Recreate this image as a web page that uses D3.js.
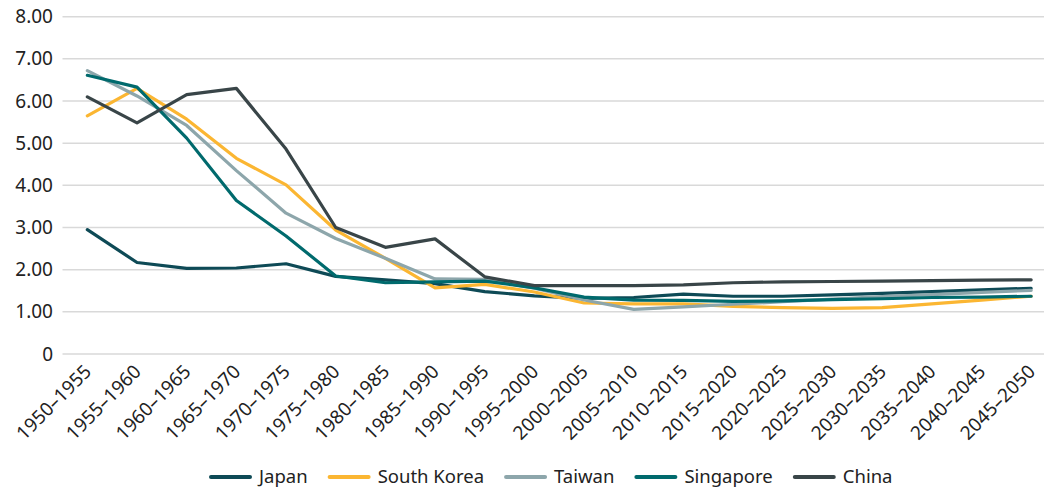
<!DOCTYPE html>
<html>
<head>
<meta charset="utf-8">
<script src="https://cdn.jsdelivr.net/npm/d3@7"></script>
<style>
  html, body { margin: 0; padding: 0; background: #fff; }
  svg { display: block; font-family: "Noto Sans", sans-serif; }
</style>
</head>
<body>
<svg id="chart" width="1044" height="489"></svg>
<script>
// Five-year periods
const periods = [
  "1950–1955", "1955–1960", "1960–1965", "1965–1970", "1970–1975",
  "1975–1980", "1980–1985", "1985–1990", "1990–1995", "1995–2000",
  "2000–2005", "2005–2010", "2010–2015", "2015–2020", "2020–2025",
  "2025–2030", "2030–2035", "2035–2040", "2040–2045", "2045–2050"
];

// Total fertility rate per period
const japan     = [2.95, 2.17, 2.03, 2.04, 2.14, 1.84, 1.76, 1.67, 1.48, 1.38, 1.32, 1.34, 1.42, 1.37, 1.37, 1.40, 1.44, 1.48, 1.52, 1.56];
const southKorea= [5.65, 6.30, 5.57, 4.64, 4.01, 2.94, 2.27, 1.57, 1.65, 1.47, 1.21, 1.19, 1.19, 1.13, 1.10, 1.08, 1.10, 1.19, 1.28, 1.37];
const taiwan    = [6.72, 6.12, 5.42, 4.35, 3.34, 2.74, 2.27, 1.78, 1.77, 1.56, 1.28, 1.06, 1.12, 1.18, 1.24, 1.30, 1.36, 1.41, 1.46, 1.51];
const singapore = [6.61, 6.33, 5.12, 3.64, 2.80, 1.85, 1.69, 1.71, 1.73, 1.57, 1.35, 1.28, 1.27, 1.25, 1.26, 1.29, 1.31, 1.34, 1.35, 1.37];
const china     = [6.10, 5.48, 6.15, 6.30, 4.86, 3.00, 2.53, 2.73, 1.83, 1.62, 1.62, 1.62, 1.64, 1.69, 1.71, 1.72, 1.73, 1.74, 1.75, 1.76];

const yTicks = [0, 1, 2, 3, 4, 5, 6, 7, 8];

const series = [
  { name: "Japan",       values: japan,      color: "#0e4a56" },
  { name: "South Korea", values: southKorea, color: "#fbb632" },
  { name: "Taiwan",      values: taiwan,     color: "#8da6ab" },
  { name: "Singapore",   values: singapore,  color: "#006a6d" },
  { name: "China",       values: china,      color: "#394548" }
];

const svg = d3.select("#chart");

const x = d3.scalePoint()
  .domain(periods)
  .range([62.5, 1056])
  .padding(0.5);

const y = d3.scaleLinear()
  .domain([0, 8])
  .range([354, 16.7]);

// Horizontal gridlines
svg.append("g")
  .selectAll("line")
  .data(yTicks)
  .join("line")
  .attr("x1", 62.5)
  .attr("x2", 1056)
  .attr("y1", d => y(d))
  .attr("y2", d => y(d))
  .attr("stroke", "#d9d9d9")
  .attr("stroke-width", 1.5);

// Y axis labels
const yAxis = d3.axisLeft(y)
  .tickValues(yTicks)
  .tickSize(0)
  .tickPadding(0)
  .tickFormat(d => d === 0 ? "0" : d3.format(".2f")(d));

svg.append("g")
  .attr("transform", "translate(53,0)")
  .call(yAxis)
  .call(g => g.select(".domain").remove())
  .call(g => g.selectAll("text")
    .attr("font-family", "Noto Sans")
    .attr("font-size", 19)
    .attr("fill", "#222"));

// X axis labels, rotated
const xAxis = d3.axisBottom(x).tickSize(0).tickPadding(0);
svg.append("g")
  .attr("transform", "translate(0,368)")
  .call(xAxis)
  .call(g => g.select(".domain").remove())
  .call(g => g.selectAll("text")
    .attr("font-family", "Noto Sans")
    .attr("font-size", 19)
    .attr("fill", "#222")
    .attr("text-anchor", "end")
    .attr("y", 0)
    .attr("dy", "0.35em")
    .attr("transform", "rotate(-45)"));

// Series lines
const line = d3.line()
  .x((d, i) => x(periods[i]))
  .y(d => y(d));

svg.append("g")
  .selectAll("path")
  .data(series)
  .join("path")
  .attr("d", d => line(d.values))
  .attr("fill", "none")
  .attr("stroke", d => d.color)
  .attr("stroke-width", 3.2)
  .attr("stroke-linejoin", "round")
  .attr("stroke-linecap", "round");

// Legend
const legend = svg.append("g").attr("transform", "translate(211,477)");
let lx = 0;
series.forEach(s => {
  const item = legend.append("g").attr("transform", `translate(${lx},0)`);
  item.append("line")
    .attr("x1", 0).attr("x2", 39)
    .attr("y1", 0).attr("y2", 0)
    .attr("stroke", s.color)
    .attr("stroke-width", 4)
    .attr("stroke-linecap", "round");
  const t = item.append("text")
    .attr("x", 48)
    .attr("y", 6)
    .attr("font-family", "Noto Sans")
    .attr("font-size", 18.5)
    .attr("fill", "#222")
    .text(s.name);
  lx += 48 + t.node().getComputedTextLength() + 22;
});
</script>
</body>
</html>
